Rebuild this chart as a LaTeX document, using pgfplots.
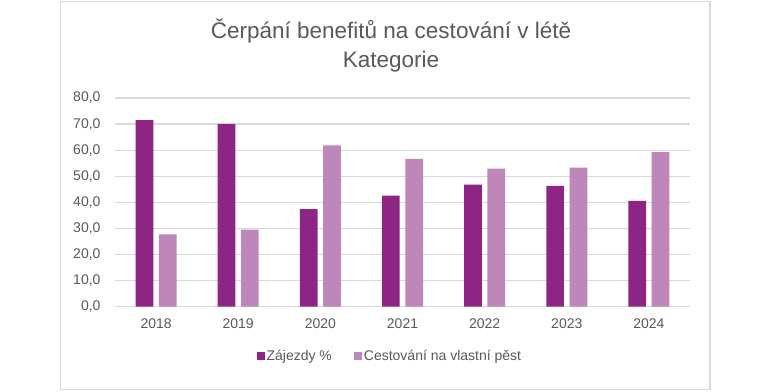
\documentclass[border=0pt]{standalone}
\usepackage{pgfplots}
\pgfplotsset{compat=1.18}
\usepackage{fontspec}
\setmainfont{Liberation Sans}
\definecolor{darkp}{HTML}{8E2484}
\definecolor{lightp}{HTML}{BD87B9}
\definecolor{txt}{HTML}{595959}
\definecolor{grd}{HTML}{D9D9D9}
\definecolor{brd}{HTML}{D9D9D9}
\begin{document}
\begin{tikzpicture}
\useasboundingbox (0pt,0pt) rectangle (770pt,391pt);
\fill[white] (0pt,0pt) rectangle (770pt,391pt);
\draw[brd,line width=1.2pt] (60.5pt,1.5pt) rectangle (710pt,389.5pt);
\node[txt,font=\fontsize{22.5}{26}\selectfont] at (391pt,360pt) {Čerpání benefitů na cestování v létě};
\node[txt,font=\fontsize{22.5}{26}\selectfont] at (391pt,329pt) {Kategorie};
\begin{axis}[
  at={(115pt,84.3pt)}, anchor=south west,
  scale only axis, width=575pt, height=208.7pt,
  ybar=5.6pt, bar width=17.7pt,
  xmin=-0.5, xmax=6.5, ymin=0, ymax=80,
  xtick=data, xticklabels={2018,2019,2020,2021,2022,2023,2024},
  ytick={0,10,...,80},
  yticklabel={\pgfmathprintnumber[fixed,fixed zerofill,precision=1,use comma]{\tick}},
  /pgf/number format/assume math mode=true,
  ymajorgrids, grid style={grd,line width=1.2pt},
  axis line style={draw=none}, major tick length=0pt,
  tick label style={txt,font=\fontsize{14}{16}\selectfont},
  yticklabel style={anchor=east,xshift=-11pt},
  xticklabel style={yshift=-8pt},
  legend style={at={(0.478,-0.235)},anchor=center,draw=none,fill=none,
    legend columns=2, font=\fontsize{14}{16}\selectfont, text=txt,
    /tikz/every even column/.append style={column sep=20pt}},
  legend image code/.code={\fill[#1] (0pt,-4pt) rectangle (8pt,4pt);},
]
\addplot[fill=darkp,draw=none] coordinates {(0,71.5) (1,70.0) (2,37.4) (3,42.6) (4,46.8) (5,46.3) (6,40.6)};
\addplot[fill=lightp,draw=none] coordinates {(0,27.7) (1,29.5) (2,61.8) (3,56.7) (4,52.9) (5,53.3) (6,59.3)};
\legend{Zájezdy \%, Cestování na vlastní pěst}
\end{axis}
\end{tikzpicture}
\end{document}
